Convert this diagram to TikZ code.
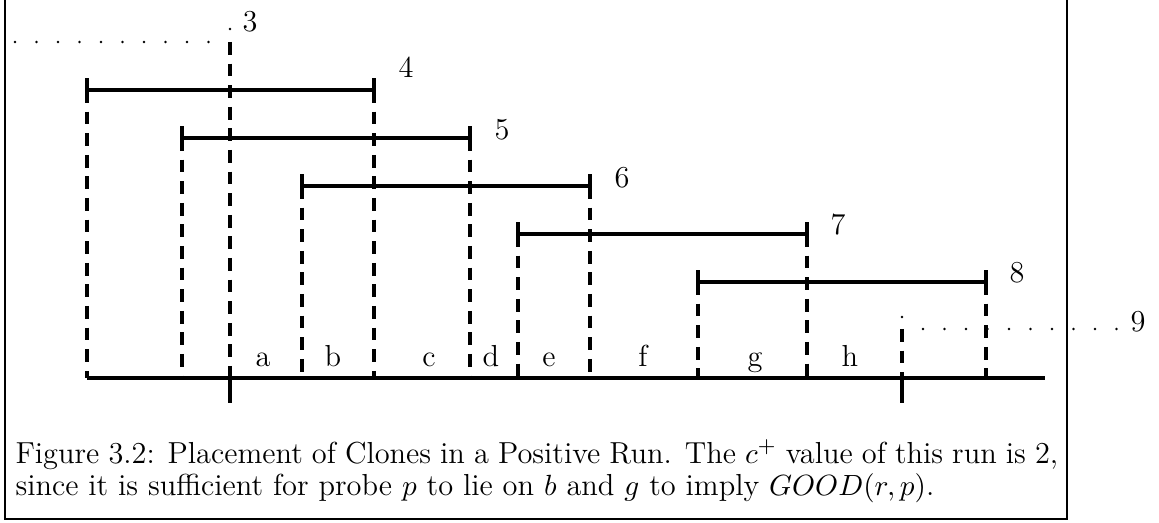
\documentclass[tikz,border=0pt]{standalone}
\tikzset{
  bar/.style={line width=1.25pt},
  guide/.style={line width=1.2pt, dash pattern=on 4.8pt off 3.3pt},
  leader/.style={line width=1pt, line cap=round, dash pattern=on 0pt off 8.06pt},
  lbl/.style={inner sep=0pt, anchor=base, font=\fontsize{11.4}{12}\selectfont},
  frame/.style={line width=1pt},
  dotmark/.style={fill=black},
}
\begin{document}
\begin{tikzpicture}[x=0.375pt,y=-0.375pt]
\useasboundingbox (0,0) rectangle (1159,523);
% frame
\coordinate (ftl) at (5,0); \coordinate (fbl) at (5,519);
\coordinate (fbr) at (1067,519); \coordinate (ftr) at (1067,0);
\draw[frame] (ftl) -- (fbl) -- (fbr) -- (ftr);
% base line
\coordinate (L) at (87,378); \coordinate (R) at (1045,378);
\draw[bar] (L) -- (R);
% intervals: name / left x / right x / y / label x / label baseline
\foreach \n/\xl/\xr/\yy/\lx/\ly in {4/87/374/90/406/78, 5/182/470/138/502/140, 6/302/590/186/622/188, 7/518/807/234/838/235, 8/698/986/282/1017/283}{
  \coordinate (i\n l) at (\xl,\yy);
  \coordinate (i\n r) at (\xr,\yy);
  \coordinate (b\n l) at (\xl,378);
  \coordinate (b\n r) at (\xr,378);
  \draw[guide] (i\n l) -- (b\n l);
  \draw[guide] (i\n r) -- (b\n r);
  \draw[bar] (i\n l) -- (i\n r);
  \draw[bar] ([yshift=-11.5*0.375pt]i\n l) -- ([yshift=11.5*0.375pt]i\n l);
  \draw[bar] ([yshift=-11.5*0.375pt]i\n r) -- ([yshift=11.5*0.375pt]i\n r);
  \node[lbl] (n\n) at (\lx,\ly) {\n};
}
% run end 3
\coordinate (t3) at (230,42); \coordinate (b3) at (230,378); \coordinate (k3) at (230,403);
\coordinate (s3) at (15,42); \coordinate (e3) at (209,42);
\draw[guide] (t3) -- (b3);
\draw[bar] (b3) -- (k3);
\draw[leader] (s3) -- (e3);
\fill[dotmark] (230,29) circle[radius=0.5pt];
\node[lbl] (n3) at (250,32) {3};
% run end 9
\coordinate (t9) at (902,329); \coordinate (b9) at (902,378); \coordinate (k9) at (902,403);
\coordinate (s9) at (923,329); \coordinate (e9) at (1119,329);
\draw[guide] (t9) -- (b9);
\draw[bar] (b9) -- (k9);
\draw[leader] (s9) -- (e9);
\fill[dotmark] (902,317) circle[radius=0.5pt];
\node[lbl] (n9) at (1138,332) {9};
% segment letters
\foreach \t/\x in {a/263, b/333, c/429, d/491, e/549, f/643, g/755, h/850}{
  \node[lbl] (seg\t) at (\x,366) {\t};
}
% caption
\node[anchor=base west, inner sep=0pt] (cap) at (15,463) {\parbox[t]{391pt}{\fontsize{11.4}{12}\selectfont\noindent Figure 3.2: Placement of Clones in a Positive Run. The $c^+$ value of this run is 2,\linebreak since it is sufficient for probe $p$ to lie on $b$ and $g$ to imply $GOOD(r,p)$.}};
\end{tikzpicture}
\end{document}
